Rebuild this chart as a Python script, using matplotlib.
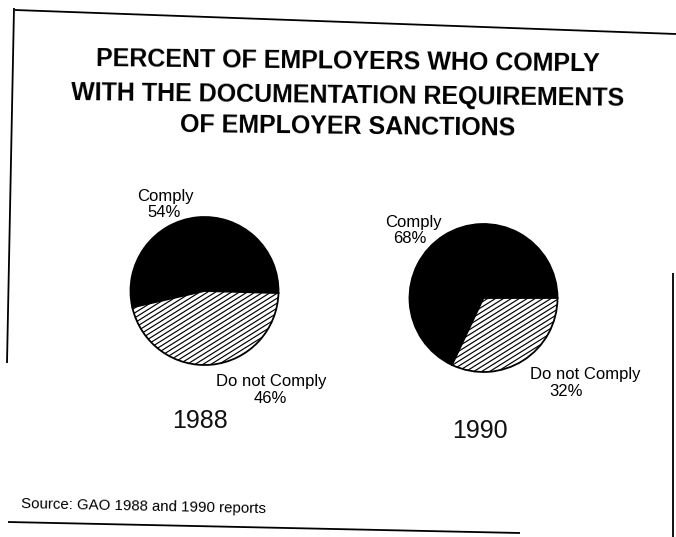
import numpy as np
import matplotlib.pyplot as plt
from matplotlib.collections import LineCollection

W, H = 676, 537

# survey results
years = ['1988', '1990']
categories = ['Comply', 'Do not Comply']
comply_pct = [54, 68]
not_comply_pct = [46, 32]

title_lines = ['PERCENT OF EMPLOYERS WHO COMPLY',
               'WITH THE DOCUMENTATION REQUIREMENTS',
               'OF EMPLOYER SANCTIONS']
source_note = 'Source: GAO 1988 and 1990 reports'

plt.rcParams['font.family'] = ['Liberation Sans', 'DejaVu Sans']

fig = plt.figure(figsize=(W / 100, H / 100), dpi=100)
ax = fig.add_axes([0, 0, 1, 1])


def yy(y):
    # pixel rows counted from the top -> data y
    return H - y


def hatch_wedge(wedge, cx, cy, r, angle=32, gap=4.2):
    a = np.radians(angle)
    d = np.array([np.cos(a), np.sin(a)])
    n = np.array([-np.sin(a), np.cos(a)])
    c = np.array([cx, cy])
    segs = []
    for off in np.arange(-r, r + gap, gap):
        p = c + n * off
        segs.append([p - d * r * 1.3, p + d * r * 1.3])
    lc = LineCollection(segs, colors='black', linewidths=0.85)
    ax.add_collection(lc)
    lc.set_clip_path(wedge)


pie_centers = [(204.5, 291), (483.5, 298)]
pie_radius = 74
start_angles = [-1.6, 0]

for i, year in enumerate(years):
    cx, cy = pie_centers[i][0], yy(pie_centers[i][1])
    wedges, _ = ax.pie([comply_pct[i], not_comply_pct[i]],
                       colors=['black', 'white'],
                       startangle=start_angles[i], counterclock=True,
                       center=(cx, cy), radius=pie_radius,
                       wedgeprops=dict(edgecolor='black', linewidth=1.3))
    hatch_wedge(wedges[1], cx, cy, pie_radius)

# label positions: (x centre, baseline row)
comply_label_pos = [((165, 200.7), (164.5, 216.7)), ((413.5, 226.7), (410, 243.3))]
not_label_pos = [((271, 386), (270, 402.7)), ((585.5, 379.3), (566.5, 396))]
year_pos = [(200, 428), (480, 437.7)]

for i, year in enumerate(years):
    (x1, y1), (x2, y2) = comply_label_pos[i]
    ax.text(x1, yy(y1), categories[0], ha='center', va='baseline', fontsize=12)
    ax.text(x2, yy(y2), f'{comply_pct[i]}%', ha='center', va='baseline', fontsize=12)
    (x1, y1), (x2, y2) = not_label_pos[i]
    ax.text(x1, yy(y1), categories[1], ha='center', va='baseline', fontsize=12)
    ax.text(x2, yy(y2), f'{not_comply_pct[i]}%', ha='center', va='baseline', fontsize=12)
    ax.text(year_pos[i][0], yy(year_pos[i][1]), year, ha='center', va='baseline',
            fontsize=18, color='#111111')

for line, base in zip(title_lines, [68.5, 102.5, 134]):
    ax.text(348, yy(base), line, ha='center', va='baseline', fontsize=18,
            fontweight='bold', rotation=-0.6, rotation_mode='anchor')

ax.text(21, yy(508), source_note, ha='left', va='baseline', fontsize=10.8,
        rotation=-1.2, rotation_mode='anchor')

# page frame of the scanned sheet
frame = dict(color='black', linewidth=1.3, solid_capstyle='butt')
ax.plot([15, 676], [yy(10), yy(34)], **frame)
ax.plot([14, 7], [yy(8), yy(363)], **frame)
ax.plot([673, 673], [yy(273), yy(537)], **frame)
ax.plot([8, 520], [yy(522), yy(533)], **frame)

ax.set_xlim(0, W)
ax.set_ylim(0, H)
ax.set_aspect('auto')
ax.axis('off')

fig.savefig('out.png', dpi=100, facecolor='white')
